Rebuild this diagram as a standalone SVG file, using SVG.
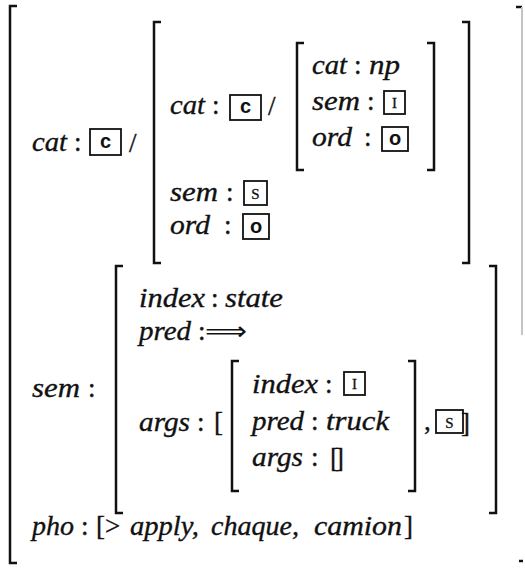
<svg xmlns="http://www.w3.org/2000/svg" width="525" height="568" viewBox="0 0 525 568">
  <style>
    .t { font-family: "Liberation Serif", "Times New Roman", serif; font-style: italic; font-size: 27px; fill: #111; stroke: #111; stroke-width: 0.35; }
    .p { font-family: "Liberation Serif", "Times New Roman", serif; font-size: 27px; fill: #111; stroke: #111; stroke-width: 0.35; }
    .ar { font-family: "DejaVu Sans", sans-serif; font-size: 26px; fill: #111; }
    .br { fill: none; stroke: #111; stroke-width: 2.5; }
    .bx { fill: none; stroke: #111; stroke-width: 1.8; }
    .sans { font-family: "Liberation Sans", Arial, sans-serif; font-weight: bold; font-size: 20px; fill: #111; text-anchor: middle; }
    .sc { font-family: "Liberation Serif", serif; font-variant: small-caps; font-size: 22px; fill: #111; stroke: #111; stroke-width: 0.3; text-anchor: middle; }
  </style>
  <rect width="525" height="568" fill="#fff"/>

  <!-- outermost structure -->
  <g id="outer">
    <path class="br" d="M17,6 H10 V563 H17"/>
    <path class="br" d="M516,7 H522"/>
    <path d="M522,7 V335" stroke="#c4c4c4" stroke-width="2" fill="none"/>
    <path class="br" d="M519,561 H523"/>
  </g>

  <!-- cat : c / [...] -->
  <g id="cat-row">
    <text class="t" x="32" y="151" textLength="35" lengthAdjust="spacingAndGlyphs">cat</text>
    <text class="p" x="74" y="151">:</text>
    <rect class="bx" x="90" y="129" width="31" height="26"/>
    <text class="sans" x="105.5" y="148">c</text>
    <text class="p" x="129" y="152">/</text>
  </g>

  <!-- default value of cat -->
  <g id="cat-default">
    <path class="br" d="M161,22 H154 V263 H161"/>
    <path class="br" d="M462,22 H469 V263 H462"/>
    <text class="t" x="170" y="114" textLength="35" lengthAdjust="spacingAndGlyphs">cat</text>
    <text class="p" x="212" y="114">:</text>
    <rect class="bx" x="230" y="95" width="31" height="25"/>
    <text class="sans" x="245.5" y="113">c</text>
    <text class="p" x="268" y="115">/</text>

    <text class="t" x="170" y="201" textLength="48" lengthAdjust="spacingAndGlyphs">sem</text>
    <text class="p" x="226" y="201">:</text>
    <rect class="bx" x="244" y="181" width="23" height="24"/>
    <text class="sc" x="255.5" y="199">s</text>

    <text class="t" x="170" y="234" textLength="40" lengthAdjust="spacingAndGlyphs">ord</text>
    <text class="p" x="224" y="234">:</text>
    <rect class="bx" x="243" y="214" width="26" height="25"/>
    <text class="sans" x="256" y="233">o</text>
  </g>

  <!-- np argument -->
  <g id="np-arg">
    <path class="br" d="M304,43 H297 V170 H304"/>
    <path class="br" d="M427,43 H434 V170 H427"/>
    <text class="t" x="312" y="74" textLength="35" lengthAdjust="spacingAndGlyphs">cat</text>
    <text class="p" x="354" y="74">:</text>
    <text class="t" x="369" y="74" textLength="31" lengthAdjust="spacingAndGlyphs">np</text>

    <text class="t" x="312" y="110" textLength="48" lengthAdjust="spacingAndGlyphs">sem</text>
    <text class="p" x="367" y="110">:</text>
    <rect class="bx" x="384" y="91" width="21" height="23"/>
    <text class="sc" x="394.5" y="108">i</text>

    <text class="t" x="312" y="146" textLength="40" lengthAdjust="spacingAndGlyphs">ord</text>
    <text class="p" x="364" y="146">:</text>
    <rect class="bx" x="382" y="127" width="26" height="24"/>
    <text class="sans" x="395" y="145">o</text>
  </g>

  <!-- sem : [...] -->
  <g id="sem-row">
    <text class="t" x="32" y="397" textLength="48" lengthAdjust="spacingAndGlyphs">sem</text>
    <text class="p" x="88" y="397">:</text>
    <path class="br" d="M123,266 H116 V513 H123"/>
    <path class="br" d="M489,266 H496 V513 H489"/>

    <text class="t" x="139" y="307" textLength="66" lengthAdjust="spacingAndGlyphs">index</text>
    <text class="p" x="211" y="307">:</text>
    <text class="t" x="225" y="307" textLength="58" lengthAdjust="spacingAndGlyphs">state</text>

    <text class="t" x="139" y="340" textLength="52" lengthAdjust="spacingAndGlyphs">pred</text>
    <text class="p" x="198" y="340">:</text>
    <text class="ar" x="205" y="340" textLength="42" lengthAdjust="spacingAndGlyphs">⟹</text>

    <text class="t" x="139" y="431" textLength="51" lengthAdjust="spacingAndGlyphs">args</text>
    <text class="p" x="197" y="431">:</text>
    <text class="p" x="214" y="431">[</text>
  </g>

  <!-- truck argument -->
  <g id="truck-arg">
    <path class="br" d="M239,361 H232 V491 H239"/>
    <path class="br" d="M408,361 H415 V491 H408"/>
    <text class="t" x="252" y="393" textLength="66" lengthAdjust="spacingAndGlyphs">index</text>
    <text class="p" x="325" y="393">:</text>
    <rect class="bx" x="344" y="372" width="21" height="23"/>
    <text class="sc" x="354.5" y="389">i</text>

    <text class="t" x="252" y="430" textLength="52" lengthAdjust="spacingAndGlyphs">pred</text>
    <text class="p" x="311" y="430">:</text>
    <text class="t" x="326" y="430" textLength="63" lengthAdjust="spacingAndGlyphs">truck</text>

    <text class="t" x="252" y="466" textLength="51" lengthAdjust="spacingAndGlyphs">args</text>
    <text class="p" x="311" y="466">:</text>
    <text class="p" x="330" y="467" font-size="30" letter-spacing="-4">[]</text>
  </g>

  <g id="args-tail">
    <text class="p" x="424" y="430">,</text>
    <rect class="bx" x="436" y="410" width="27" height="23"/>
    <text class="sc" x="449.5" y="428">s</text>
    <text class="p" x="461" y="432">]</text>
  </g>

  <!-- pho : [...] -->
  <g id="pho-row">
    <text class="t" x="32" y="535" textLength="42" lengthAdjust="spacingAndGlyphs">pho</text>
    <text class="p" x="81" y="535">:</text>
    <text class="p" x="96" y="535">[</text>
    <text class="p" x="105" y="535">&gt;</text>
    <text class="t" x="130" y="535" textLength="69" lengthAdjust="spacingAndGlyphs">apply,</text>
    <text class="t" x="211" y="535" textLength="88" lengthAdjust="spacingAndGlyphs">chaque,</text>
    <text class="t" x="314" y="535" textLength="88" lengthAdjust="spacingAndGlyphs">camion</text>
    <text class="p" x="404" y="535">]</text>
  </g>
</svg>
